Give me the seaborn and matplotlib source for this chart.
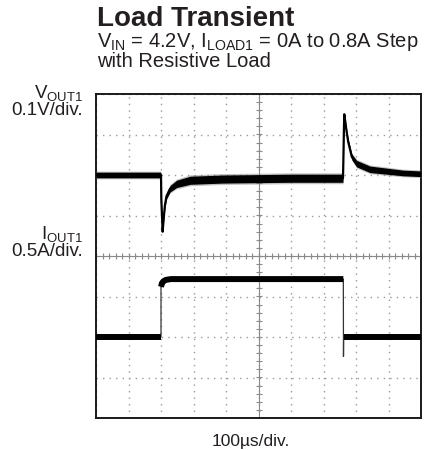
import numpy as np
import pandas as pd
import matplotlib
matplotlib.use("Agg")
import matplotlib.pyplot as plt
import seaborn as sns

# V_OUT1 trace: deviation from the no-load level, read off the scope shot
vout_time_us = [0, 199, 200, 201, 205, 208, 212, 217, 228, 248, 290, 390, 500, 600,
                760, 761, 763, 764, 771, 776, 787, 802, 843, 945, 1000]
vout_mv = [0, 0, 0, -60, -140, -110, -75, -52, -34, -22, -13, -10, -9, -8,
           -8, 30, 120, 150, 108, 82, 45, 28, 14, 5, 3]
vout_noise_mv = [7, 7, 3, 2, 2, 4, 6, 7, 8, 9, 10, 10, 10, 10,
                 10, 3, 3, 3, 5, 6, 7, 8, 8, 7, 7]

# I_OUT1 trace (A); seg -1 = thin edge only
iout_time_us = [0, 200, 200, 203, 208, 215, 230, 760, 761, 761.5, 762, 1000]
iout_a = [0, 0, 0.62, 0.665, 0.69, 0.705, 0.715, 0.715, 0.715, -0.24, 0, 0]
iout_seg = [0, 0, 1, 1, 1, 1, 1, 1, 1, -1, 2, 2]

# scope settings
VOUT_OFFSET_DIV, VOUT_MV_PER_DIV = 2.0, 100.0
IOUT_OFFSET_DIV, IOUT_A_PER_DIV = -2.0, 0.5

sns.set_theme(style="white")
plt.rcParams["font.family"] = ["Liberation Sans", "DejaVu Sans"]
plt.rcParams["mathtext.fontset"] = "custom"
plt.rcParams["mathtext.rm"] = "Liberation Sans"
plt.rcParams["mathtext.it"] = "Liberation Sans:italic"
plt.rcParams["mathtext.bf"] = "Liberation Sans:bold"

W, H = 437, 450
fig = plt.figure(figsize=(W / 100, H / 100), dpi=100)
ax = fig.add_axes([96 / W, 1 - 418 / H, 325 / W, 324 / H])

vout = pd.DataFrame({"t": vout_time_us, "mv": vout_mv, "n": vout_noise_mv})
vout["div"] = VOUT_OFFSET_DIV + vout["mv"] / VOUT_MV_PER_DIV
vout["nd"] = vout["n"] / VOUT_MV_PER_DIV

iout = pd.DataFrame({"t": iout_time_us, "a": iout_a, "seg": iout_seg})
iout["div"] = IOUT_OFFSET_DIV + iout["a"] / IOUT_A_PER_DIV

# graticule
ax.set_xlim(0, 1000)
ax.set_ylim(-4, 4)
ax.set_xticks(np.arange(0, 1001, 100))
ax.set_yticks(np.arange(-4, 5, 1))
ax.tick_params(length=0, labelbottom=False, labelleft=False)
ax.grid(True, color="#9a9a9a", linestyle=(0, (1, 3.7)), linewidth=1)
ax.axhline(0, color="#8a8a8a", lw=0.8, zorder=1)
ax.axvline(500, color="#8a8a8a", lw=0.8, zorder=1)
minor_x = np.arange(0, 1001, 20)
minor_y = np.arange(-4, 4.01, 0.2)
ax.plot(minor_x, np.zeros_like(minor_x), ls="none", marker="|", ms=4, mew=0.8, color="#8a8a8a")
ax.plot(np.full_like(minor_y, 500), minor_y, ls="none", marker="_", ms=4, mew=0.8, color="#8a8a8a")
for s in ax.spines.values():
    s.set_color("#1a1a1a")
    s.set_linewidth(1.4)

# V_OUT1
ax.fill_between(vout["t"], vout["div"] - 1.35 * vout["nd"], vout["div"] + 1.35 * vout["nd"],
                color="#777777", alpha=0.45, lw=0, zorder=3)
ax.fill_between(vout["t"], vout["div"] - vout["nd"], vout["div"] + vout["nd"],
                color="black", lw=0, zorder=3)
sns.lineplot(data=vout, x="t", y="div", sort=False, estimator=None, ax=ax,
             color="black", lw=1.6, zorder=4)

# I_OUT1: thin edges, thick flat parts
sns.lineplot(data=iout, x="t", y="div", sort=False, estimator=None, ax=ax,
             color="#333333", lw=0.9, zorder=4)
thick = iout[iout["seg"] >= 0]
sns.lineplot(data=thick, x="t", y="div", units="seg", sort=False, estimator=None, ax=ax,
             color="black", lw=4.3, zorder=5, solid_capstyle="butt")
ax.set_xlabel("")
ax.set_ylabel("")

def ftext(x, y, s, **kw):
    fig.text(x / W, 1 - y / H, s, va="baseline", color="#231f20", **kw)

ftext(97, 26, "Load Transient", fontsize=20, fontweight="bold")
ftext(97, 47, r"V$_{\mathrm{IN}}$ = 4.2V, I$_{\mathrm{LOAD1}}$ = 0A to 0.8A Step", fontsize=14.5)
ftext(97, 67, "with Resistive Load", fontsize=14.5)
ftext(83, 98, r"V$_{\mathrm{OUT1}}$", fontsize=13.5, ha="right")
ftext(83, 115, "0.1V/div.", fontsize=13.5, ha="right")
ftext(83, 239, r"I$_{\mathrm{OUT1}}$", fontsize=13.5, ha="right")
ftext(83, 256, "0.5A/div.", fontsize=13.5, ha="right")
ftext(251, 446, "100µs/div.", fontsize=12.5, ha="center")

fig.savefig("out.png", dpi=100, facecolor="white")
